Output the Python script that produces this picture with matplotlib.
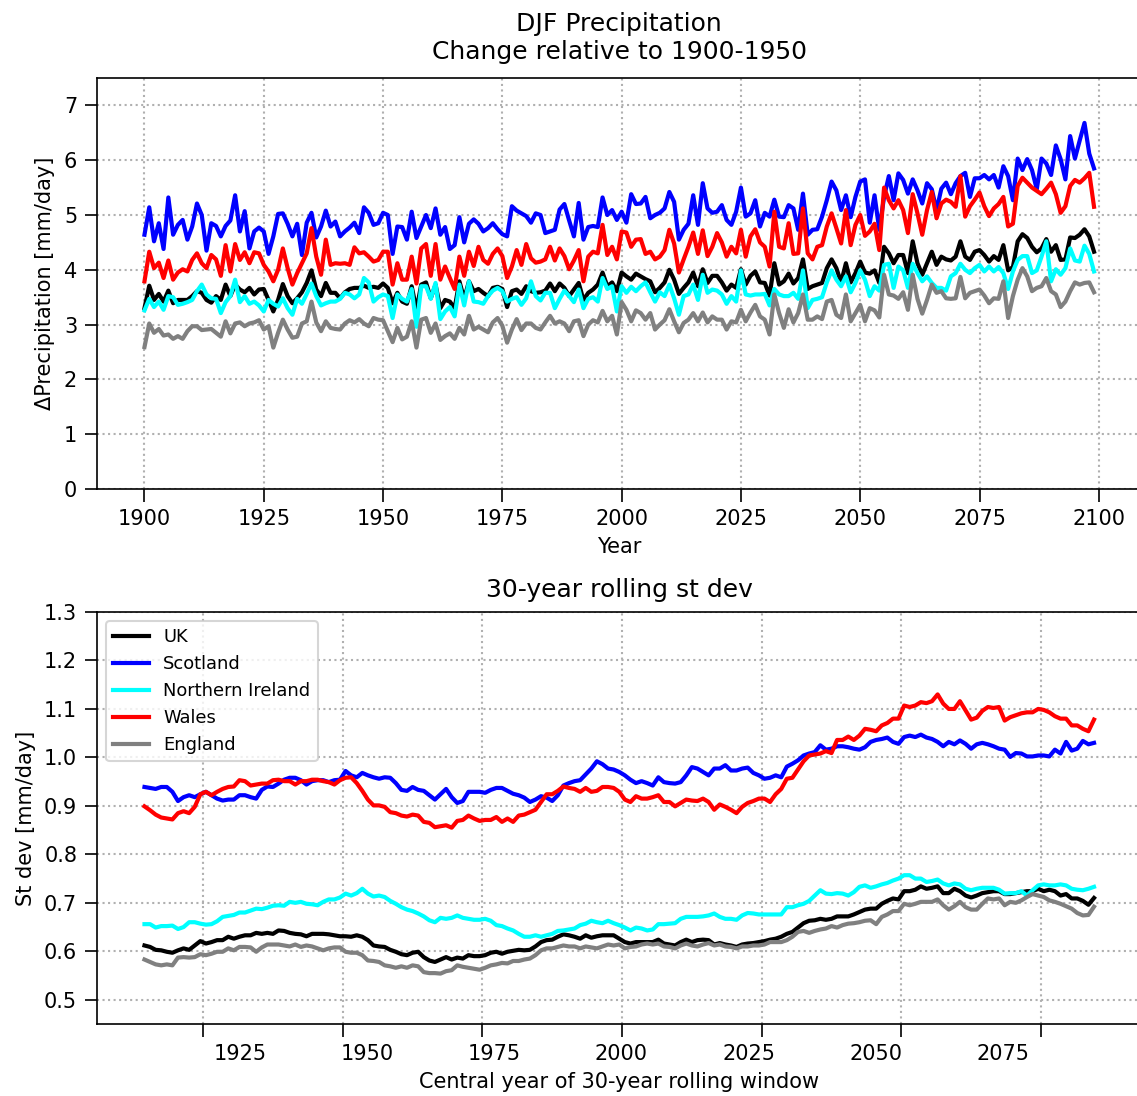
import numpy as np
import matplotlib
matplotlib.use("Agg")
import matplotlib.pyplot as plt

# ---------------- DJF precipitation, 1900-2099 ----------------
years = np.arange(1900, 2100)

uk = [
    3.30, 3.71, 3.45, 3.56, 3.42, 3.62, 3.39, 3.45, 3.45, 3.45, 3.52, 3.61, 3.58, 3.45, 3.40, 3.52, 3.45, 3.73, 3.52, 3.73,
    3.64, 3.59, 3.67, 3.55, 3.64, 3.65, 3.45, 3.24, 3.45, 3.74, 3.52, 3.39, 3.48, 3.59, 3.76, 3.99, 3.64, 3.52, 3.76, 3.58,
    3.58, 3.48, 3.59, 3.65, 3.67, 3.67, 3.71, 3.67, 3.69, 3.67, 3.75,
    3.67, 3.39, 3.58, 3.42, 3.38, 3.70, 3.27, 3.73, 3.77, 3.48, 3.73, 3.30, 3.45, 3.42, 3.30, 3.79, 3.47, 3.79, 3.61, 3.65,
    3.58, 3.52, 3.67, 3.69, 3.65, 3.32, 3.61, 3.64, 3.56, 3.70, 3.61, 3.58, 3.59, 3.62, 3.75, 3.61, 3.75, 3.67, 3.52, 3.64,
    3.76, 3.45, 3.58, 3.64, 3.73, 3.95, 3.70, 3.77, 3.61, 3.95,
    3.88, 3.82, 3.93, 3.88, 3.83, 3.79, 3.59, 3.67, 3.77, 4.00, 3.82, 3.56, 3.67, 3.77, 3.95, 3.70, 4.01, 3.76, 3.89, 3.89,
    3.77, 3.62, 3.73, 3.67, 4.01, 3.73, 3.89, 3.97, 3.77, 3.76, 3.53, 4.12, 3.73, 3.79, 3.93, 3.75, 3.85, 4.19, 3.65, 3.70,
    3.73, 3.76, 4.03, 4.19, 4.03, 3.77, 4.12, 3.77, 3.94, 4.15,
    3.95, 3.93, 3.99, 3.76, 4.42, 4.30, 4.12, 4.27, 4.27, 3.94, 4.52, 4.12, 3.91, 4.12, 4.33, 4.09, 4.24, 4.19, 4.17, 4.24,
    4.52, 4.24, 4.18, 4.33, 4.36, 4.27, 4.15, 4.25, 4.18, 4.45, 3.99, 4.05, 4.52, 4.65, 4.58, 4.42, 4.32, 4.39, 4.56, 4.33,
    4.45, 4.18, 4.19, 4.59, 4.58, 4.64, 4.74, 4.61, 4.33,
]

scotland = [
    4.64, 5.14, 4.52, 4.85, 4.38, 5.32, 4.64, 4.82, 4.91, 4.55, 4.79, 5.21, 5.00, 4.35, 4.85, 4.80, 4.61, 4.80, 4.90, 5.36,
    4.70, 5.07, 4.39, 4.70, 4.77, 4.70, 4.29, 4.61, 5.02, 5.03, 4.84, 4.61, 4.84, 4.27, 4.86, 5.04, 4.59, 4.79, 5.08, 4.79,
    4.88, 4.61, 4.70, 4.77, 4.86, 4.67, 5.14, 5.04, 4.82, 4.85, 5.04,
    5.00, 4.29, 4.79, 4.78, 4.55, 5.06, 4.58, 4.79, 5.00, 4.76, 5.12, 4.64, 4.78, 4.38, 4.45, 4.96, 4.50, 4.84, 4.92, 4.84,
    4.70, 4.76, 4.85, 4.74, 4.65, 4.61, 5.16, 5.08, 5.03, 4.98, 4.86, 5.03, 5.00, 4.67, 4.70, 4.73, 5.10, 5.20, 4.90, 4.61,
    5.22, 4.55, 4.78, 4.80, 4.78, 5.32, 5.00, 5.09, 4.91, 5.06,
    4.86, 5.38, 5.20, 5.21, 5.33, 4.94, 5.00, 5.04, 5.12, 5.42, 5.24, 4.55, 4.73, 4.84, 5.36, 4.82, 5.58, 5.12, 5.04, 5.06,
    5.18, 4.91, 4.82, 5.06, 5.50, 4.97, 5.03, 5.27, 4.79, 5.04, 4.97, 5.28, 4.97, 4.96, 5.18, 5.12, 4.73, 5.39, 4.64, 4.73,
    4.74, 4.97, 5.27, 5.61, 5.45, 5.09, 5.36, 4.96, 5.33, 5.61,
    5.65, 4.86, 5.36, 4.73, 5.33, 5.71, 5.27, 5.76, 5.64, 5.39, 5.65, 5.45, 5.21, 5.58, 5.47, 5.09, 5.48, 5.59, 5.38, 5.58,
    5.71, 5.77, 5.33, 5.67, 5.67, 5.73, 5.65, 5.73, 5.50, 5.89, 5.71, 5.27, 6.03, 5.82, 6.02, 5.82, 5.47, 6.03, 5.94, 5.73,
    6.27, 6.02, 5.65, 6.44, 6.03, 6.36, 6.68, 6.12, 5.85,
]

n_ireland = [
    3.26, 3.47, 3.32, 3.42, 3.27, 3.52, 3.50, 3.36, 3.38, 3.41, 3.45, 3.61, 3.73, 3.55, 3.48, 3.47, 3.21, 3.41, 3.52, 3.82,
    3.41, 3.52, 3.38, 3.42, 3.35, 3.24, 3.45, 3.38, 3.33, 3.48, 3.30, 3.18, 3.47, 3.38, 3.56, 3.75, 3.52, 3.35, 3.39, 3.42,
    3.42, 3.47, 3.58, 3.55, 3.48, 3.55, 3.85, 3.77, 3.42, 3.50, 3.55,
    3.52, 3.12, 3.55, 3.47, 3.42, 3.65, 2.96, 3.70, 3.70, 3.47, 3.76, 3.10, 3.24, 3.32, 3.15, 3.73, 3.35, 3.79, 3.42, 3.41,
    3.38, 3.52, 3.62, 3.67, 3.61, 3.42, 3.47, 3.50, 3.36, 3.48, 3.79, 3.52, 3.44, 3.58, 3.58, 3.30, 3.47, 3.62, 3.52, 3.41,
    3.64, 3.30, 3.47, 3.50, 3.42, 3.85, 3.65, 3.70, 3.24, 3.70,
    3.58, 3.69, 3.61, 3.70, 3.77, 3.59, 3.42, 3.59, 3.52, 3.73, 3.48, 3.18, 3.52, 3.55, 3.73, 3.45, 3.91, 3.58, 3.64, 3.62,
    3.55, 3.38, 3.52, 3.42, 3.99, 3.55, 3.53, 3.55, 3.55, 3.56, 3.35, 3.65, 3.55, 3.52, 3.52, 3.58, 3.47, 3.99, 3.30, 3.45,
    3.47, 3.50, 3.77, 3.99, 3.82, 3.70, 3.88, 3.59, 3.76, 3.99,
    3.82, 3.52, 3.70, 3.62, 4.09, 4.11, 3.67, 4.06, 3.99, 3.67, 4.11, 3.94, 3.79, 3.88, 3.76, 3.67, 3.67, 3.62, 3.88, 3.94,
    4.11, 4.00, 3.94, 4.03, 4.09, 3.97, 4.06, 3.97, 4.05, 3.94, 3.65, 3.97, 4.18, 4.25, 4.25, 3.94, 3.99, 4.24, 4.52, 3.79,
    4.01, 3.91, 4.03, 4.39, 4.17, 4.15, 4.44, 4.29, 3.97,
]

wales = [
    3.79, 4.33, 4.03, 4.13, 3.85, 4.17, 3.82, 3.95, 4.01, 3.97, 4.18, 4.30, 4.12, 4.03, 4.27, 4.19, 3.89, 4.45, 3.97, 4.47,
    4.18, 4.32, 4.12, 4.32, 4.30, 4.09, 3.97, 3.79, 4.00, 4.39, 4.03, 3.73, 3.94, 4.12, 4.30, 4.76, 4.24, 3.91, 4.55, 4.09,
    4.12, 4.11, 4.12, 4.09, 4.41, 4.30, 4.32, 4.24, 4.15, 4.18, 4.33,
    4.33, 3.73, 4.12, 3.82, 3.82, 4.24, 3.75, 4.39, 4.47, 3.89, 4.47, 3.82, 4.06, 3.85, 3.65, 4.24, 3.89, 4.33, 4.07, 4.42,
    4.18, 4.11, 4.29, 4.39, 4.25, 3.85, 4.06, 4.36, 4.09, 4.47, 4.21, 4.13, 4.15, 4.19, 4.42, 4.17, 4.39, 4.25, 4.01, 4.17,
    4.36, 3.79, 4.24, 4.33, 4.30, 4.82, 4.27, 4.42, 4.19, 4.70,
    4.68, 4.42, 4.55, 4.56, 4.29, 4.33, 4.19, 4.24, 4.36, 4.73, 4.48, 3.95, 4.19, 4.42, 4.68, 4.29, 4.72, 4.25, 4.42, 4.67,
    4.50, 4.24, 4.42, 4.30, 4.73, 4.24, 4.61, 4.74, 4.50, 4.42, 4.06, 5.06, 4.42, 4.39, 4.85, 4.29, 4.30, 5.12, 4.30, 4.19,
    4.42, 4.45, 4.79, 5.03, 4.76, 4.48, 5.09, 4.45, 4.82, 5.00,
    4.62, 4.70, 4.84, 4.36, 5.50, 5.27, 5.12, 5.27, 5.09, 4.67, 5.38, 5.03, 4.64, 5.09, 5.42, 4.94, 5.21, 5.28, 5.24, 5.15,
    5.71, 4.97, 5.16, 5.28, 5.41, 5.16, 4.98, 5.12, 5.20, 5.33, 4.79, 4.84, 5.53, 5.68, 5.59, 5.50, 5.44, 5.38, 5.48, 5.59,
    5.38, 5.04, 5.16, 5.53, 5.64, 5.59, 5.67, 5.77, 5.15,
]

england = [
    2.59, 3.02, 2.85, 2.92, 2.80, 2.82, 2.74, 2.79, 2.74, 2.88, 2.97, 2.97, 2.90, 2.91, 2.92, 2.85, 2.78, 3.06, 2.84, 3.02,
    3.04, 2.97, 3.02, 3.04, 3.08, 2.91, 2.97, 2.58, 2.85, 3.09, 2.91, 2.76, 2.78, 3.02, 3.06, 3.42, 3.04, 2.88, 3.06, 2.94,
    2.92, 2.91, 3.02, 3.08, 3.04, 3.10, 3.02, 2.97, 3.12, 3.09, 3.08,
    2.88, 2.68, 2.94, 2.73, 2.78, 3.06, 2.58, 3.09, 3.12, 2.85, 3.02, 2.72, 2.79, 2.84, 2.74, 2.94, 2.82, 3.16, 2.91, 2.96,
    2.91, 2.86, 3.04, 3.12, 2.98, 2.67, 2.91, 3.10, 2.90, 3.02, 3.02, 2.94, 2.91, 3.04, 3.16, 3.02, 3.06, 3.02, 2.88, 3.06,
    3.08, 2.79, 3.00, 3.08, 3.04, 3.25, 3.06, 3.16, 2.82, 3.41,
    3.27, 3.06, 3.26, 3.21, 3.09, 3.21, 2.91, 3.00, 3.08, 3.28, 3.06, 2.86, 3.03, 3.09, 3.21, 3.06, 3.22, 3.04, 3.15, 3.09,
    3.09, 2.91, 3.06, 3.04, 3.27, 3.06, 3.22, 3.36, 3.15, 3.09, 2.82, 3.55, 3.21, 2.94, 3.28, 3.04, 3.21, 3.55, 3.09, 3.09,
    3.15, 3.10, 3.42, 3.45, 3.18, 3.12, 3.55, 3.06, 3.21, 3.36,
    3.06, 3.30, 3.26, 3.13, 3.91, 3.55, 3.53, 3.47, 3.59, 3.27, 3.91, 3.47, 3.20, 3.45, 3.73, 3.58, 3.61, 3.48, 3.47, 3.48,
    3.87, 3.48, 3.58, 3.61, 3.64, 3.53, 3.39, 3.48, 3.47, 3.79, 3.12, 3.52, 3.82, 4.03, 3.88, 3.61, 3.67, 3.70, 3.85, 3.61,
    3.55, 3.32, 3.42, 3.61, 3.77, 3.73, 3.76, 3.77, 3.59,
]

# ---------------- 30-year rolling standard deviation ----------------
central_years = np.arange(1914.5, 2085.0, 1.0)

sd_uk = [
    0.612, 0.609, 0.603, 0.602, 0.599, 0.597, 0.602, 0.606, 0.603, 0.612, 0.621, 0.616, 0.619, 0.623, 0.623, 0.630, 0.626, 0.630, 0.633, 0.633,
    0.638, 0.636, 0.638, 0.636, 0.643, 0.642, 0.638, 0.636, 0.635, 0.631, 0.636, 0.636, 0.636, 0.635, 0.633, 0.631, 0.631, 0.630,
    0.633, 0.630, 0.623, 0.612, 0.610, 0.609, 0.603, 0.599, 0.594, 0.592, 0.597, 0.599, 0.588, 0.581, 0.578, 0.583, 0.588, 0.583,
    0.587, 0.585, 0.592, 0.590, 0.590, 0.592, 0.597, 0.599, 0.595, 0.599, 0.601, 0.603, 0.602, 0.603, 0.610, 0.619, 0.623, 0.624,
    0.630, 0.635, 0.633, 0.630, 0.626, 0.633, 0.628,
    0.631, 0.633, 0.633, 0.633, 0.626, 0.619, 0.616, 0.619, 0.619, 0.619, 0.619, 0.624, 0.616, 0.614, 0.612, 0.619, 0.624, 0.619,
    0.623, 0.624, 0.623, 0.614, 0.617, 0.614, 0.612, 0.609, 0.614, 0.616, 0.617, 0.619, 0.621, 0.624, 0.626, 0.630, 0.636, 0.640,
    0.649, 0.658, 0.663, 0.664, 0.667, 0.665, 0.667, 0.672,
    0.672, 0.672, 0.676, 0.681, 0.686, 0.688, 0.688, 0.698, 0.704, 0.709, 0.707, 0.724, 0.724, 0.727, 0.734, 0.729, 0.731, 0.734,
    0.720, 0.720, 0.729, 0.724, 0.715, 0.711, 0.715, 0.720, 0.722, 0.724, 0.724, 0.718, 0.718, 0.720, 0.722, 0.724, 0.724, 0.729,
    0.724, 0.727, 0.724, 0.715, 0.718, 0.709, 0.709, 0.704, 0.696, 0.710,
]

sd_scotland = [
    0.939, 0.937, 0.935, 0.939, 0.939, 0.929, 0.910, 0.918, 0.922, 0.918, 0.924, 0.929, 0.922, 0.915, 0.911, 0.913, 0.913, 0.922, 0.922, 0.918,
    0.915, 0.933, 0.940, 0.939, 0.946, 0.954, 0.958, 0.958, 0.953, 0.944, 0.951, 0.953, 0.953, 0.949, 0.953, 0.954, 0.972, 0.963,
    0.959, 0.968, 0.963, 0.959, 0.956, 0.959, 0.958, 0.947, 0.933, 0.931, 0.939, 0.933, 0.931, 0.922, 0.913, 0.924, 0.935, 0.918,
    0.906, 0.910, 0.929, 0.929, 0.929, 0.927, 0.933, 0.937, 0.937, 0.931, 0.925, 0.922, 0.917, 0.908, 0.913, 0.920, 0.917, 0.910,
    0.922, 0.942, 0.947, 0.951, 0.953, 0.965, 0.977,
    0.992, 0.986, 0.977, 0.975, 0.970, 0.963, 0.954, 0.947, 0.951, 0.947, 0.942, 0.959, 0.949, 0.947, 0.946, 0.949, 0.963, 0.980,
    0.977, 0.970, 0.963, 0.977, 0.977, 0.984, 0.973, 0.973, 0.977, 0.979, 0.968, 0.963, 0.956, 0.958, 0.963, 0.959, 0.981, 0.987,
    0.994, 1.004, 1.008, 1.011, 1.025, 1.016, 1.018, 1.023,
    1.023, 1.021, 1.018, 1.016, 1.021, 1.032, 1.036, 1.038, 1.041, 1.032, 1.028, 1.042, 1.045, 1.042, 1.047, 1.041, 1.038, 1.032,
    1.023, 1.032, 1.027, 1.035, 1.028, 1.018, 1.027, 1.030, 1.027, 1.023, 1.018, 1.016, 1.001, 1.009, 1.008, 1.002, 1.002, 1.004,
    1.004, 1.002, 1.016, 1.008, 1.032, 1.014, 1.018, 1.034, 1.027, 1.030,
]

sd_n_ireland = [
    0.656, 0.656, 0.649, 0.652, 0.652, 0.653, 0.646, 0.650, 0.660, 0.660, 0.657, 0.655, 0.656, 0.662, 0.671, 0.673, 0.675, 0.680, 0.680, 0.684,
    0.688, 0.687, 0.690, 0.694, 0.695, 0.694, 0.702, 0.700, 0.702, 0.698, 0.697, 0.695, 0.702, 0.707, 0.707, 0.711, 0.719, 0.715,
    0.720, 0.729, 0.719, 0.713, 0.715, 0.712, 0.704, 0.698, 0.691, 0.686, 0.683, 0.678, 0.672, 0.664, 0.660, 0.669, 0.667, 0.669,
    0.674, 0.669, 0.667, 0.665, 0.665, 0.667, 0.663, 0.654, 0.652, 0.647, 0.643, 0.636, 0.630, 0.630, 0.633, 0.630, 0.633, 0.636,
    0.642, 0.643, 0.645, 0.647, 0.654, 0.657, 0.663,
    0.660, 0.658, 0.663, 0.658, 0.654, 0.649, 0.643, 0.649, 0.647, 0.643, 0.645, 0.656, 0.656, 0.657, 0.658, 0.667, 0.671, 0.671,
    0.671, 0.672, 0.674, 0.678, 0.671, 0.667, 0.667, 0.665, 0.674, 0.679, 0.678, 0.676, 0.676, 0.676, 0.676, 0.676, 0.691, 0.691,
    0.695, 0.698, 0.704, 0.715, 0.726, 0.719, 0.718, 0.720,
    0.719, 0.715, 0.722, 0.733, 0.736, 0.731, 0.734, 0.738, 0.741, 0.746, 0.750, 0.757, 0.757, 0.750, 0.750, 0.743, 0.745, 0.748,
    0.740, 0.736, 0.740, 0.738, 0.729, 0.726, 0.729, 0.731, 0.731, 0.731, 0.727, 0.719, 0.720, 0.720, 0.724, 0.715, 0.726, 0.736,
    0.738, 0.736, 0.736, 0.738, 0.736, 0.729, 0.727, 0.726, 0.729, 0.733,
]

sd_wales = [
    0.899, 0.891, 0.882, 0.876, 0.874, 0.872, 0.885, 0.889, 0.885, 0.898, 0.924, 0.929, 0.922, 0.929, 0.935, 0.939, 0.940, 0.953, 0.951, 0.942,
    0.944, 0.946, 0.946, 0.953, 0.954, 0.951, 0.951, 0.944, 0.951, 0.951, 0.954, 0.954, 0.951, 0.949, 0.944, 0.953, 0.958, 0.959,
    0.947, 0.931, 0.913, 0.901, 0.901, 0.898, 0.887, 0.885, 0.880, 0.878, 0.882, 0.880, 0.867, 0.865, 0.856, 0.858, 0.860, 0.855,
    0.869, 0.871, 0.880, 0.874, 0.869, 0.871, 0.871, 0.877, 0.867, 0.874, 0.867, 0.880, 0.882, 0.887, 0.892, 0.908, 0.924, 0.924,
    0.931, 0.940, 0.937, 0.935, 0.929, 0.937, 0.929,
    0.931, 0.939, 0.939, 0.937, 0.929, 0.913, 0.908, 0.920, 0.915, 0.915, 0.918, 0.922, 0.908, 0.908, 0.899, 0.906, 0.913, 0.911,
    0.910, 0.915, 0.908, 0.892, 0.903, 0.898, 0.892, 0.885, 0.898, 0.906, 0.910, 0.915, 0.915, 0.908, 0.924, 0.935, 0.956, 0.958,
    0.975, 0.992, 1.004, 1.006, 1.008, 1.013, 1.009, 1.036,
    1.036, 1.043, 1.036, 1.045, 1.059, 1.057, 1.054, 1.066, 1.071, 1.080, 1.080, 1.107, 1.104, 1.107, 1.114, 1.112, 1.116, 1.130,
    1.111, 1.100, 1.100, 1.116, 1.097, 1.078, 1.082, 1.096, 1.104, 1.102, 1.104, 1.076, 1.083, 1.087, 1.091, 1.093, 1.093, 1.100,
    1.098, 1.093, 1.085, 1.080, 1.080, 1.066, 1.066, 1.059, 1.054, 1.078,
]

sd_england = [
    0.583, 0.578, 0.573, 0.571, 0.573, 0.571, 0.587, 0.588, 0.587, 0.588, 0.594, 0.592, 0.595, 0.599, 0.599, 0.606, 0.602, 0.609, 0.609, 0.608,
    0.599, 0.608, 0.614, 0.614, 0.614, 0.612, 0.610, 0.614, 0.609, 0.612, 0.610, 0.606, 0.602, 0.606, 0.608, 0.608, 0.599, 0.597,
    0.597, 0.592, 0.581, 0.580, 0.578, 0.571, 0.569, 0.566, 0.569, 0.566, 0.571, 0.569, 0.557, 0.555, 0.555, 0.554, 0.559, 0.561,
    0.571, 0.568, 0.566, 0.564, 0.562, 0.566, 0.571, 0.573, 0.576, 0.575, 0.580, 0.580, 0.583, 0.585, 0.592, 0.602, 0.606, 0.606,
    0.609, 0.612, 0.610, 0.610, 0.606, 0.610, 0.608,
    0.606, 0.610, 0.614, 0.612, 0.614, 0.606, 0.609, 0.610, 0.614, 0.616, 0.614, 0.616, 0.610, 0.609, 0.606, 0.612, 0.616, 0.612,
    0.610, 0.614, 0.617, 0.612, 0.614, 0.610, 0.609, 0.606, 0.610, 0.610, 0.612, 0.612, 0.614, 0.619, 0.619, 0.619, 0.623, 0.630,
    0.640, 0.642, 0.638, 0.642, 0.645, 0.647, 0.652, 0.649,
    0.654, 0.657, 0.658, 0.660, 0.663, 0.664, 0.656, 0.671, 0.676, 0.683, 0.683, 0.698, 0.695, 0.698, 0.702, 0.702, 0.702, 0.707,
    0.695, 0.686, 0.693, 0.702, 0.691, 0.686, 0.686, 0.698, 0.709, 0.707, 0.709, 0.695, 0.702, 0.700, 0.705, 0.712, 0.718, 0.715,
    0.712, 0.705, 0.702, 0.698, 0.693, 0.688, 0.679, 0.674, 0.675, 0.692,
]

regions = ["UK", "Scotland", "Northern Ireland", "Wales", "England"]
colours = ["black", "blue", "cyan", "red", "grey"]

top_xticks = [1900, 1925, 1950, 1975, 2000, 2025, 2050, 2075, 2100]
top_yticks = [0, 1, 2, 3, 4, 5, 6, 7]
bottom_grid_years = [1925, 1950, 1975, 2000, 2025, 2050, 2075]
bottom_label_years = [1931.6, 1954.3, 1977.1, 1999.9, 2022.7, 2045.5, 2068.2]
bottom_labels = ["1925", "1950", "1975", "2000", "2025", "2050", "2075"]
bottom_yticks = [0.5, 0.6, 0.7, 0.8, 0.9, 1.0, 1.1, 1.2, 1.3]

plt.rcParams["xtick.major.size"] = 6
plt.rcParams["ytick.major.size"] = 6

W, H, DPI = 1137, 1096, 150
fig = plt.figure(figsize=(W / DPI, H / DPI), dpi=DPI)

grid_kw = dict(linestyle=":", color="#b0b0b0", linewidth=1.0)

# upper panel: annual DJF precipitation
ax1 = fig.add_axes([97 / W, 1 - 489 / H, 1044.5 / W, 411 / H])
for vals, col, name in zip([uk, scotland, n_ireland, wales, england], colours, regions):
    ax1.plot(years, vals, color=col, lw=2.0, label=name)
ax1.set_ylim(0, 7.5)
ax1.set_xticks(top_xticks)
ax1.set_yticks(top_yticks)
ax1.grid(True, **grid_kw)
ax1.set_xlabel("Year")
ax1.set_ylabel("\u0394Precipitation [mm/day]")
ax1.set_title("DJF Precipitation\nChange relative to 1900-1950", pad=9)

# lower panel: rolling standard deviation
ax2 = fig.add_axes([97 / W, 1 - 1024 / H, 1044.5 / W, 412 / H])
for vals, col, name in zip([sd_uk, sd_scotland, sd_n_ireland, sd_wales, sd_england], colours, regions):
    ax2.plot(central_years, vals, color=col, lw=2.0, label=name)
ax2.set_ylim(0.45, 1.3)
ax2.set_yticks(bottom_yticks)
ax2.set_xticks(bottom_grid_years, labels=[""] * len(bottom_grid_years))
ax2.set_xticks(bottom_label_years, labels=bottom_labels, minor=True)
ax2.tick_params(axis="x", which="minor", length=0, pad=9.5)
ax2.grid(True, which="major", **grid_kw)
ax2.set_xlabel("Central year of 30-year rolling window")
ax2.set_ylabel("St dev [mm/day]")
ax2.set_title("30-year rolling st dev", pad=7)
ax2.legend(loc="upper left", fontsize=8.6)

fig.savefig("out.png", dpi=DPI)
